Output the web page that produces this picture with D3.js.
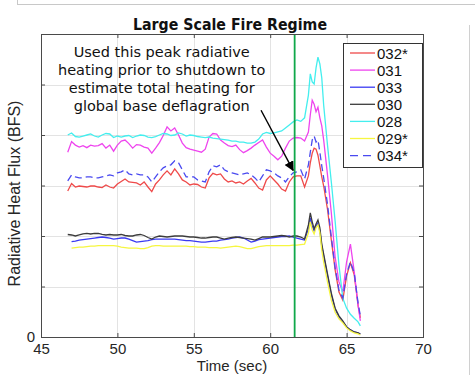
<!DOCTYPE html>
<html>
<head>
<meta charset="utf-8">
<script src="https://cdn.jsdelivr.net/npm/d3@7"></script>
<style>
  body { margin: 0; background: #fff; }
  svg { display: block; }
</style>
</head>
<body>
<div id="chart"></div>
<script>
// sample times (sec), shared by every series
var times = [46.75,47,47.25,47.5,47.75,48,48.25,48.5,48.75,49,
  49.25,49.5,49.75,50,50.25,50.5,50.75,51,51.25,51.5,
  51.75,52,52.25,52.5,52.75,53,53.25,53.5,53.75,54,
  54.25,54.5,54.75,55,55.25,55.5,55.75,56,56.25,56.5,
  56.75,57,57.25,57.5,57.75,58,58.25,58.5,58.75,59,
  59.25,59.5,59.75,60,60.25,60.5,60.75,61,61.25,61.5,
  61.75,62,62.25,62.5,
  62.625,62.75,62.875,63,63.125,63.25,63.375,63.5,63.75,64,
  64.25,64.5,64.75,65,65.25,65.5,65.75,65.9];

var s032 = [2.89,3.04,2.97,2.99,2.98,2.97,2.99,2.99,2.97,2.96,
  3.01,2.97,2.95,3.03,3.08,3.13,3.07,3.06,3.05,3.01,
  3.07,2.97,2.88,3.03,3.11,3.21,3.29,3.21,3.33,3.23,
  3.11,3.07,3.01,3.03,3.02,2.97,2.95,3.15,3.24,3.21,
  3.23,3.13,3.07,3.09,3.05,3.07,3.03,3.09,3.14,3.05,
  2.95,2.91,3.11,3.19,3.11,3.03,2.93,2.89,3.07,3.17,
  3.19,3.19,2.97,3.19,
  3.45,3.64,3.74,3.72,3.60,3.39,3.17,2.99,2.53,1.92,
  1.33,0.89,0.73,1.21,1.47,1.23,0.63,0.38];

var s031 = [3.66,3.87,3.80,3.76,3.79,3.75,3.80,3.78,3.79,3.83,
  3.74,3.80,3.68,3.80,3.88,3.90,3.83,3.74,3.81,3.80,
  3.76,3.74,3.64,3.74,3.85,3.99,4.16,4.08,4.14,4.00,
  3.84,3.75,3.72,3.70,3.68,3.66,3.72,3.96,4.03,4.02,
  3.90,3.84,3.79,3.77,3.80,3.71,3.65,3.69,3.74,3.80,
  3.85,3.90,3.76,3.64,3.58,3.51,3.58,3.74,3.88,3.94,
  3.95,3.94,3.88,4.06,
  4.40,4.69,4.61,4.46,4.55,4.34,4.18,3.90,3.21,2.46,
  1.58,1.09,0.89,1.49,1.84,1.29,0.63,0.32];

var s033 = [null,1.89,1.90,1.92,1.93,1.94,1.95,1.96,1.97,1.98,
  1.97,1.96,1.94,1.95,1.96,1.96,1.94,1.91,1.88,1.89,
  1.90,1.91,1.93,1.94,1.94,1.94,1.94,1.94,1.94,1.93,
  1.92,1.91,1.91,1.90,1.89,1.88,1.88,1.89,1.90,1.90,
  1.92,1.93,1.94,1.96,1.97,1.98,1.96,1.92,1.88,1.90,
  1.93,1.94,1.95,1.96,1.97,1.98,1.99,1.99,2.00,1.98,
  1.96,1.94,1.92,2.14,
  2.36,2.20,2.10,2.20,2.26,2.10,1.80,1.60,1.21,0.83,
  0.55,0.40,0.30,0.20,0.14,0.10,0.08,0.06];

var s030 = [2.03,2.02,2.00,2.02,2.04,2.05,2.04,2.05,2.05,2.03,
  2.02,2.03,2.02,2.02,2.03,2.01,2.00,2.00,2.02,2.03,
  2.01,1.97,1.94,1.98,2.00,1.99,1.98,1.99,2.00,2.00,
  2.00,1.99,1.98,1.98,1.97,1.96,1.96,1.97,1.98,1.98,
  1.96,1.94,1.96,1.97,1.98,1.97,1.96,1.95,1.94,1.92,
  1.95,1.98,1.98,1.98,1.99,2.00,2.01,2.00,1.98,2.00,
  2.00,1.98,1.94,2.22,
  2.46,2.28,2.14,2.24,2.32,2.16,1.84,1.64,1.25,0.87,
  0.57,0.42,0.32,0.20,0.14,0.10,0.08,0.06];

var s028 = [4.00,4.04,3.97,3.96,3.98,4.00,4.02,3.98,3.96,4.00,
  4.03,4.02,3.95,3.98,3.96,3.98,3.99,3.95,3.98,4.00,
  3.99,3.96,3.95,3.97,4.00,4.03,4.02,3.99,4.00,4.04,
  4.02,3.98,4.00,3.99,3.97,3.96,3.95,3.96,3.94,3.93,
  3.92,3.91,3.90,3.88,3.88,3.86,3.86,3.84,3.84,3.86,
  3.92,4.02,4.05,4.03,4.04,4.06,4.08,4.14,4.20,4.26,
  4.30,4.27,4.34,4.79,
  5.21,5.05,5.01,5.33,5.54,5.41,5.13,4.59,3.80,3.07,
  2.29,1.42,0.77,0.57,0.45,0.37,0.30,0.22];

var s029 = [null,1.76,1.77,1.78,1.78,1.79,1.80,1.80,1.81,1.81,
  1.81,1.81,1.81,1.80,1.78,1.77,1.76,1.76,1.76,1.75,
  1.75,1.77,1.80,1.81,1.81,1.80,1.80,1.80,1.80,1.80,
  1.80,1.80,1.79,1.79,1.78,1.78,1.78,1.77,1.77,1.77,
  1.76,1.77,1.78,1.79,1.80,1.79,1.77,1.75,1.75,1.77,
  1.79,1.80,1.81,1.81,1.81,1.81,1.81,1.81,1.81,1.82,
  1.82,1.83,1.84,2.06,
  2.28,2.12,2.04,2.16,2.22,2.06,1.72,1.48,1.09,0.73,
  0.49,0.36,0.28,0.18,0.12,0.08,0.06,0.04];

var s034 = [3.09,3.21,3.17,3.15,3.15,3.17,3.17,3.15,3.15,3.17,
  3.19,3.21,3.19,3.25,3.27,3.31,3.23,3.21,3.23,3.21,
  3.21,3.17,3.07,3.17,3.27,3.35,3.39,3.41,3.49,3.45,
  3.31,3.17,3.17,3.17,3.11,3.09,3.07,3.27,3.39,3.37,
  3.41,3.31,3.27,3.25,3.23,3.21,3.23,3.25,3.21,3.15,
  3.07,3.19,3.31,3.29,3.25,3.19,3.15,3.07,3.17,3.25,
  3.27,3.31,3.13,3.41,
  3.66,3.90,3.98,3.86,3.90,3.66,3.39,3.15,2.63,1.98,
  1.37,0.93,0.77,1.25,1.49,1.27,0.67,0.42];

var seriesNames = ["032*", "031", "033", "030", "028", "029*", "034*"];
var seriesData = [s032, s031, s033, s030, s028, s029, s034];
var seriesColors = ["#ef4a4a", "#ee44ee", "#3a3af2", "#3c3c3c", "#44eeee", "#f6f640", "#4a4af0"];
var seriesDash = [null, null, null, null, null, null, "7,4"];

var xTicks = [45, 50, 55, 60, 65, 70];
var yTicks = [0, 1, 2, 3, 4, 5, 6];
var shutdownTime = 61.6;

var noteLines = ["Used this peak radiative", "heating prior to shutdown to",
  "estimate total heating for", "global base deflagration"];
var noteCenter = [52.9, 4.48];
var arrowFrom = [59.4, 4.49];
var arrowTo = [61.5, 3.3];

var w = 475, h = 375;
var svg = d3.select('#chart').append('svg')
  .attr('width', w)
  .attr('height', h)
  .style('font-family', '"Liberation Sans", Arial, sans-serif');

// bits of the surrounding screenshot frame
svg.append('line').attr('x1', 17).attr('x2', 475).attr('y1', 4.5).attr('y2', 4.5)
  .attr('stroke', '#c8c8c8');
svg.append('line').attr('x1', 17.5).attr('x2', 17.5).attr('y1', 0).attr('y2', 4.5)
  .attr('stroke', '#c8c8c8');
svg.append('line').attr('x1', 469.5).attr('x2', 469.5).attr('y1', 25).attr('y2', 375)
  .attr('stroke', '#d0d0d0');

var x = d3.scaleLinear().domain([45, 70]).range([41, 423]);
var y = d3.scaleLinear().domain([0, 6]).range([337, 34]);

// grid
var grid = svg.append('g').attr('stroke', '#e3e3e3').attr('stroke-width', 1);
grid.selectAll('.gx').data(xTicks.slice(1, -1)).enter().append('line')
  .attr('x1', function(d){ return Math.round(x(d)) + 0.5; })
  .attr('x2', function(d){ return Math.round(x(d)) + 0.5; })
  .attr('y1', y(0)).attr('y2', y(6));
grid.selectAll('.gy').data(yTicks.slice(1, -1)).enter().append('line')
  .attr('y1', function(d){ return Math.round(y(d)) + 0.5; })
  .attr('y2', function(d){ return Math.round(y(d)) + 0.5; })
  .attr('x1', x(45)).attr('x2', x(70));

// series
var line = d3.line()
  .defined(function(d){ return d[1] != null; })
  .x(function(d){ return x(d[0]); })
  .y(function(d){ return y(d[1]); });

svg.append('g').selectAll('path')
  .data(seriesData).enter().append('path')
  .attr('d', function(s){ return line(times.map(function(t, i){ return [t, s[i]]; })); })
  .attr('fill', 'none')
  .attr('stroke', function(d, i){ return seriesColors[i]; })
  .attr('stroke-width', 1.3)
  .attr('stroke-dasharray', function(d, i){ return seriesDash[i]; });

// shutdown marker
svg.append('line')
  .attr('x1', x(shutdownTime)).attr('x2', x(shutdownTime))
  .attr('y1', y(0)).attr('y2', y(6))
  .attr('stroke', '#10a84a').attr('stroke-width', 1.8);

// axes (box with inward ticks)
var axisColor = '#4a4a4a';
function styleAxis(g) {
  g.selectAll('.domain').remove();
  g.selectAll('.tick line').attr('stroke', axisColor);
  g.selectAll('.tick text').attr('fill', '#262626').style('font-size', '15px');
}
svg.append('g').attr('transform', 'translate(0,' + y(0) + ')')
  .call(d3.axisBottom(x).tickValues(xTicks).tickSize(-4).tickPadding(6))
  .call(styleAxis);
svg.append('g').attr('transform', 'translate(0,' + y(6) + ')')
  .call(d3.axisTop(x).tickValues(xTicks).tickSize(-4).tickFormat(''))
  .call(styleAxis);
svg.append('g').attr('transform', 'translate(' + x(45) + ',0)')
  .call(d3.axisLeft(y).tickValues(yTicks).tickSize(-4).tickPadding(6)
    .tickFormat(function(d){ return d === 0 ? '0' : ''; }))
  .call(styleAxis);
svg.append('g').attr('transform', 'translate(' + x(70) + ',0)')
  .call(d3.axisRight(y).tickValues(yTicks).tickSize(-4).tickFormat(''))
  .call(styleAxis);
svg.append('rect')
  .attr('x', x(45) + 0.5).attr('y', y(6) + 0.5)
  .attr('width', x(70) - x(45)).attr('height', y(0) - y(6))
  .attr('fill', 'none').attr('stroke', axisColor);

// labels
svg.append('text').attr('x', 232).attr('y', 371).attr('text-anchor', 'middle')
  .style('font-size', '15px').attr('fill', '#262626').text('Time (sec)');
svg.append('text')
  .attr('transform', 'translate(20,' + ((y(0) + y(6)) / 2 + 8) + ') rotate(-90)')
  .attr('text-anchor', 'middle').style('font-size', '16px').attr('fill', '#262626')
  .text('Radiative Heat Flux (BFS)');
svg.append('text').attr('x', 230).attr('y', 30).attr('text-anchor', 'middle')
  .style('font-size', '16.5px').style('font-weight', 'bold')
  .style('font-family', '"DejaVu Sans", sans-serif')
  .attr('textLength', 194).attr('lengthAdjust', 'spacingAndGlyphs')
  .attr('fill', '#111').text('Large Scale Fire Regime');

// annotation
var note = svg.append('g').style('font-family', '"DejaVu Sans", sans-serif')
  .style('font-size', '14.5px').attr('fill', '#111');
note.selectAll('text').data(noteLines).enter().append('text')
  .attr('x', x(noteCenter[0]))
  .attr('y', function(d, i){ return 56.5 + i * 18.3; })
  .attr('text-anchor', 'middle')
  .text(function(d){ return d; });

svg.append('defs').append('marker')
  .attr('id', 'arr').attr('viewBox', '0 0 10 10').attr('refX', 9).attr('refY', 5)
  .attr('markerWidth', 7).attr('markerHeight', 7).attr('orient', 'auto')
  .append('path').attr('d', 'M0,0 L10,5 L0,10 z').attr('fill', '#000');
svg.append('line')
  .attr('x1', x(arrowFrom[0])).attr('y1', y(arrowFrom[1]))
  .attr('x2', x(arrowTo[0])).attr('y2', y(arrowTo[1]))
  .attr('stroke', '#000').attr('stroke-width', 1.4)
  .attr('marker-end', 'url(#arr)');

// legend
var lg = svg.append('g');
lg.append('rect').attr('x', 343.5).attr('y', 43.5).attr('width', 79).attr('height', 124)
  .attr('fill', '#fff').attr('stroke', '#333');
var items = lg.selectAll('.item').data(seriesNames).enter().append('g')
  .attr('transform', function(d, i){ return 'translate(0,' + (53 + i * 17.1) + ')'; });
items.append('line').attr('x1', 350).attr('x2', 375).attr('y1', 0).attr('y2', 0)
  .attr('stroke', function(d, i){ return seriesColors[i]; })
  .attr('stroke-width', 1.3)
  .attr('stroke-dasharray', function(d, i){ return seriesDash[i] ? '8,5' : null; });
items.append('text').attr('x', 377).attr('y', 5.5)
  .style('font-size', '15px').attr('fill', '#111')
  .text(function(d){ return d; });
</script>
</body>
</html>
